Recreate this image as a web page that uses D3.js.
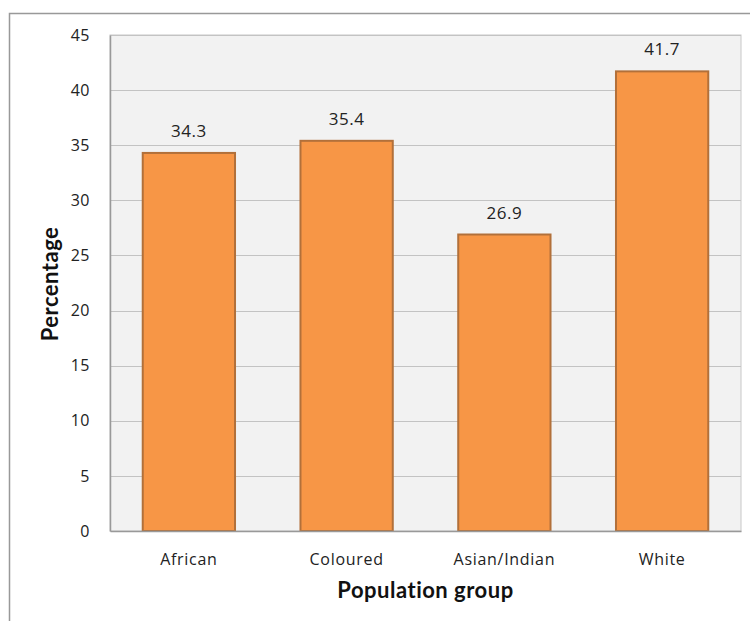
<!DOCTYPE html>
<html><head><meta charset="utf-8">
<script src="https://cdn.jsdelivr.net/npm/d3@7"></script>
<style>body{margin:0;background:#fff}svg{display:block}</style>
</head><body>
<svg id="c" width="750" height="621"></svg>
<script>
const categories = ["African", "Coloured", "Asian/Indian", "White"];
const values = [34.3, 35.4, 26.9, 41.7];
const yTicks = [0, 5, 10, 15, 20, 25, 30, 35, 40, 45];
const xTitle = "Population group";
const yTitle = "Percentage";

const svg = d3.select("#c");
const font = "'Open Sans', 'DejaVu Sans', sans-serif";
const m = {left: 110, top: 35, right: 741, bottom: 531};

// outer border
svg.append("rect").attr("x", 9.5).attr("y", 13.5).attr("width", 800).attr("height", 700)
  .attr("fill", "#fff").attr("stroke", "#999").attr("stroke-width", 1.5);

const x = d3.scaleBand().domain(categories).range([m.left, m.right]).paddingInner(0.415).paddingOuter(0.2075);
const y = d3.scaleLinear().domain([0, 45]).range([m.bottom, m.top]);

// plot background
svg.append("rect").attr("x", m.left).attr("y", m.top).attr("width", m.right - m.left).attr("height", m.bottom - m.top)
  .attr("fill", "#f2f2f2").attr("stroke", "#c8c8c8").attr("stroke-width", 1);

// gridlines
svg.append("g").selectAll("line").data(yTicks.filter(d => d > 0)).join("line")
  .attr("x1", m.left).attr("x2", m.right)
  .attr("y1", d => Math.round(y(d)) + 0.5).attr("y2", d => Math.round(y(d)) + 0.5)
  .attr("stroke", "#c3c3c3").attr("stroke-width", 1);

// y axis
const yAxis = svg.append("g").attr("transform", `translate(${m.left},0)`)
  .call(d3.axisLeft(y).tickValues(yTicks).tickSize(0).tickPadding(20));
yAxis.select(".domain").attr("stroke", "#999").attr("stroke-width", 1.5);
yAxis.selectAll("text").attr("font-family", font).attr("font-size", 16).attr("letter-spacing", 0.5).attr("fill", "#222");

// bars
svg.append("g").selectAll("rect").data(values).join("rect")
  .attr("x", (d, i) => x(categories[i]))
  .attr("width", x.bandwidth())
  .attr("y", d => y(d))
  .attr("height", d => y(0) - y(d))
  .attr("fill", "#f79646").attr("stroke", "#b2703a").attr("stroke-width", 2);

// x axis
const xAxis = svg.append("g").attr("transform", `translate(0,${m.bottom})`)
  .call(d3.axisBottom(x).tickSize(0).tickPadding(23));
xAxis.select(".domain").attr("stroke", "#999").attr("stroke-width", 1.5);
xAxis.selectAll("text").attr("font-family", font).attr("font-size", 16).attr("letter-spacing", 0.7).attr("fill", "#222");

// data labels
svg.append("g").selectAll("text").data(values).join("text")
  .attr("x", (d, i) => x(categories[i]) + x.bandwidth() / 2)
  .attr("y", d => y(d) - 16)
  .attr("text-anchor", "middle")
  .attr("font-family", font).attr("font-size", 17).attr("letter-spacing", 0.5).attr("fill", "#222")
  .text(d => d.toFixed(1));

// titles
svg.append("text").attr("x", (m.left + m.right) / 2).attr("y", 598)
  .attr("text-anchor", "middle").attr("font-family", "Lato, 'Open Sans', sans-serif")
  .attr("font-weight", "bold").attr("font-size", 22).attr("letter-spacing", 0.5).attr("fill", "#111").text(xTitle);
svg.append("text").attr("transform", "translate(58,284) rotate(-90)")
  .attr("text-anchor", "middle").attr("font-family", "Lato, 'Open Sans', sans-serif")
  .attr("font-weight", "bold").attr("font-size", 22).attr("letter-spacing", 0.5).attr("fill", "#111").text(yTitle);
</script>
</body></html>
